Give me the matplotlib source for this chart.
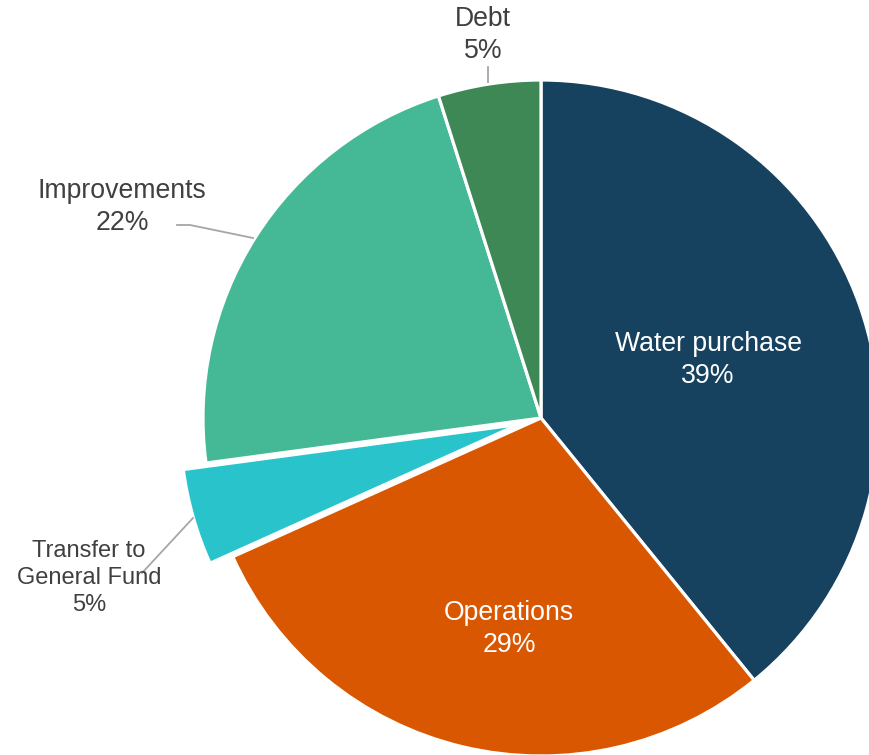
import matplotlib
matplotlib.use("Agg")
import matplotlib.pyplot as plt

plt.rcParams['font.family'] = ['Liberation Sans', 'DejaVu Sans']

categories = ["Water purchase", "Operations", "Transfer to\nGeneral Fund", "Improvements", "Debt"]
values = [39.1, 29.1, 4.6, 22.2, 4.9]
colors = ["#17425F", "#D95700", "#29C4CB", "#45B996", "#3E8855"]
explode = [0, 0, 0.07, 0, 0]

fig = plt.figure(figsize=(8.69, 7.55), dpi=100)
ax = fig.add_axes([0, 0, 1, 1])

wedges, _ = ax.pie(values, colors=colors, startangle=90, counterclock=False,
                   explode=explode, radius=1.0,
                   wedgeprops=dict(edgecolor="white", linewidth=2.3))

ax.set_xlim(-541/338, (869-541)/338)
ax.set_ylim(-(755-418)/338, 418/338)
ax.set_aspect('equal')
ax.axis('off')

total = sum(values)
pct = [f"{round(v/total*100):.0f}%" for v in values]

def px(x, y):
    return ((x-541)/338, (418-y)/338)

# inside labels
ax.text(*px(708, 360), f"{categories[0]}\n{pct[0]}", ha='center', va='center',
        color='white', fontsize=19.2, linespacing=1.28)
ax.text(*px(509, 629), f"{categories[1]}\n{pct[1]}", ha='center', va='center',
        color='white', fontsize=19.2, linespacing=1.28)

# outside labels
lab_col = "#404040"
line_col = "#A6A6A6"
ax.text(*px(483, 35), f"{categories[4]}\n{pct[4]}", ha='center', va='center',
        color=lab_col, fontsize=19.2, linespacing=1.28)
ax.plot(*zip(px(488, 67), px(488, 82)), color=line_col, lw=1.3)

ax.text(*px(122, 207), f"{categories[3]}\n{pct[3]}", ha='center', va='center',
        color=lab_col, fontsize=19.2, linespacing=1.28)
ax.plot(*zip(px(177, 225), px(190, 225), px(253, 238)), color=line_col, lw=1.3)

ax.text(*px(89, 578), f"{categories[2]}\n{pct[2]}", ha='center', va='center',
        color=lab_col, fontsize=17, linespacing=1.3)
ax.plot(*zip(px(142, 573), px(193, 518)), color=line_col, lw=1.3)

fig.savefig("out.png", dpi=100)
